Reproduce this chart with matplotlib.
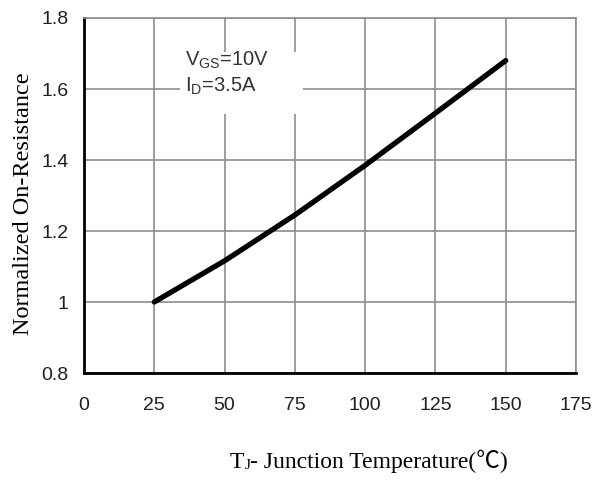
import matplotlib
matplotlib.use("Agg")
import matplotlib.pyplot as plt
from matplotlib.patches import Rectangle

# Data
temps = [25, 50, 75, 100, 125, 150]
norm_res = [1.0, 1.116, 1.245, 1.385, 1.532, 1.68]
x_ticks = [0, 25, 50, 75, 100, 125, 150, 175]
y_ticks = [0.8, 1.0, 1.2, 1.4, 1.6, 1.8]
y_tick_labels = ["0.8", "1", "1.2", "1.4", "1.6", "1.8"]

GRID = "#8c8c8c"
plt.rcParams["mathtext.fontset"] = "custom"
plt.rcParams["mathtext.rm"] = "Liberation Sans"

fig = plt.figure(figsize=(6.03, 4.8), dpi=100)
ax = fig.add_axes([0.1393, 0.2229, 0.8159, 0.7396])

ax.set_xlim(0, 175)
ax.set_ylim(0.8, 1.8)
ax.set_xticks(x_ticks)
ax.set_yticks(y_ticks)
ax.set_yticklabels(y_tick_labels)
ax.grid(True, color=GRID, linewidth=1.2, zorder=0)
ax.set_axisbelow(True)
ax.tick_params(length=0, labelsize=14, labelcolor="#1f1f2a")
ax.tick_params(axis="x", pad=17)
ax.tick_params(axis="y", pad=11)
for lab in ax.get_xticklabels() + ax.get_yticklabels():
    lab.set_fontfamily("Liberation Sans")

for side in ["top", "right"]:
    ax.spines[side].set_color(GRID)
    ax.spines[side].set_linewidth(1.2)
for side in ["left", "bottom"]:
    ax.spines[side].set_color("black")
    ax.spines[side].set_linewidth(2)

ax.plot(temps, norm_res, color="black", linewidth=3.8, solid_capstyle="round", zorder=3)

# white label box covering the grid
ax.add_patch(Rectangle((34.1, 1.53), 43.8, 0.174, facecolor="white", edgecolor="none", zorder=1.5))
ax.text(36.0, 1.666, r"V$_\mathrm{GS}$=10V", fontsize=14.5, family="Liberation Sans",
        color="#333333", va="baseline", zorder=4)
ax.text(36.0, 1.592, r"I$_\mathrm{D}$=3.5A", fontsize=14.5, family="Liberation Sans",
        color="#333333", va="baseline", zorder=4)

ax.set_ylabel("Normalized On-Resistance", fontsize=17.5, family="Liberation Serif",
              va="center")
ax.yaxis.set_label_coords(-0.122, 0.477)

# x label built from pieces so the J can sit as a small subscript
fig.canvas.draw()
renderer = fig.canvas.get_renderer()
serif = ["Liberation Serif", "Noto Sans CJK SC"]
pieces = [("T", 17, 0), ("J", 11, -1), ("- Junction Temperature(℃)", 17, 0)]
x_px, base_px = 230, 480 - 468
for txt, size, dy in pieces:
    t = fig.text(x_px / 603, (base_px + dy) / 480, txt, fontsize=size, family=serif,
                 va="baseline", ha="left")
    x_px = t.get_window_extent(renderer).x1

fig.savefig("out.png", dpi=100)
